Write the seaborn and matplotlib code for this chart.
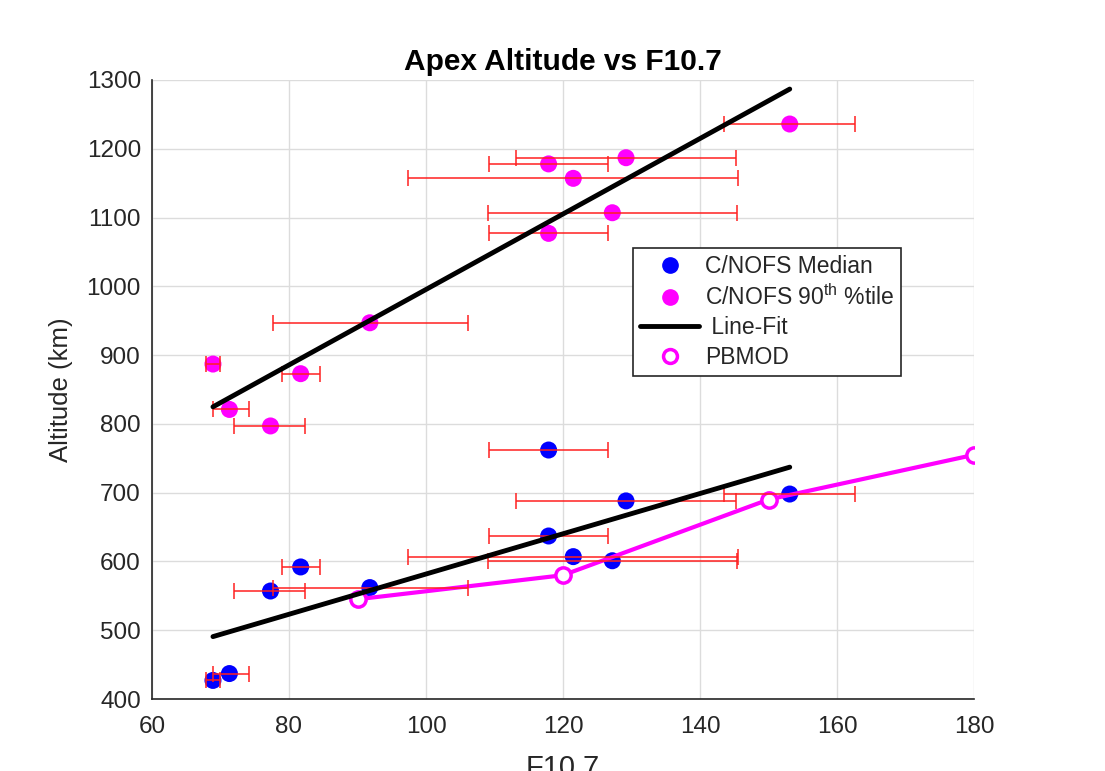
import matplotlib
matplotlib.use('Agg')
import matplotlib.pyplot as plt
from matplotlib.lines import Line2D
import numpy as np
import pandas as pd
import seaborn as sns

# F10.7 bin centres and the spread of each bin
f107 = [68.9, 71.3, 77.3, 81.7, 91.8, 117.9, 117.9, 121.5, 127.2, 129.2, 153.1]
f107_lo = [67.9, 68.9, 72.0, 79.0, 77.7, 109.2, 109.2, 97.4, 109.1, 113.2, 143.5]
f107_hi = [69.9, 74.1, 82.4, 84.5, 106.1, 126.5, 126.5, 145.5, 145.4, 145.2, 162.7]

# apex altitudes (km)
alt_median = [427, 437, 557, 592, 562, 762, 637, 607, 601, 688, 698]
alt_90th = [887, 821, 797, 873, 947, 1178, 1077, 1157, 1107, 1187, 1236]

# PBMOD model
pb_f107 = [90, 120, 150, 180]
pb_alt = [545, 580, 690, 755]

sns.set_style('white')
plt.rcParams['font.family'] = ['Liberation Sans', 'DejaVu Sans']
plt.rcParams['mathtext.fontset'] = 'custom'
plt.rcParams['mathtext.rm'] = 'Liberation Sans'

df = pd.DataFrame({'f107': f107 + f107,
                   'alt': alt_median + alt_90th,
                   'kind': ['median'] * len(f107) + ['90th'] * len(f107)})
df_pb = pd.DataFrame({'f107': pb_f107, 'alt': pb_alt})

x = np.array(f107)
xerr = [x - np.array(f107_lo), np.array(f107_hi) - x]

# line fits
xfit = np.array([x.min(), x.max()])
fit_med = np.polyval(np.polyfit(x, alt_median, 1), xfit)
fit_90 = np.polyval(np.polyfit(x, alt_90th, 1), xfit)
df_fit = pd.DataFrame({'f107': list(xfit) + list(xfit),
                       'alt': list(fit_med) + list(fit_90),
                       'grp': ['m', 'm', 'p', 'p']})

fig = plt.figure(figsize=(11.05, 7.71), dpi=100)
ax = fig.add_axes([152 / 1105, 1 - 699 / 771, (974 - 152) / 1105, (699 - 80) / 771])

sns.scatterplot(data=df, x='f107', y='alt', hue='kind',
                palette={'median': '#0000ff', '90th': '#ff00ff'},
                s=150, edgecolor='none', legend=False, ax=ax, zorder=3)
sns.lineplot(data=df_pb, x='f107', y='alt', color='#ff00ff', lw=3,
             marker='o', markersize=11, markerfacecolor='white',
             markeredgecolor='#ff00ff', markeredgewidth=2.5, ax=ax, zorder=4)
ax.errorbar(f107, alt_median, xerr=xerr, fmt='none', ecolor='#ff2020',
            elinewidth=1.1, capsize=6, capthick=1.1, zorder=5)
ax.errorbar(f107, alt_90th, xerr=xerr, fmt='none', ecolor='#ff2020',
            elinewidth=1.1, capsize=6, capthick=1.1, zorder=5)
sns.lineplot(data=df_fit, x='f107', y='alt', units='grp', estimator=None,
             color='black', lw=3.5, ax=ax, zorder=6)

ax.set_xlim(60, 180)
ax.set_ylim(400, 1300)
ax.set_xticks(np.arange(60, 181, 20))
ax.set_yticks(np.arange(400, 1301, 100))
ax.grid(True, color='#dcdcdc', lw=1)
ax.set_axisbelow(True)
for s in ['top', 'right']:
    ax.spines[s].set_visible(False)
for s in ['left', 'bottom']:
    ax.spines[s].set_color('#262626')
    ax.spines[s].set_linewidth(1.2)
ax.tick_params(direction='in', length=6, width=1.2, color='#262626',
               labelsize=17.5, labelcolor='#262626')
ax.tick_params(axis='x', pad=12)
ax.tick_params(axis='y', pad=8)

ax.set_title('Apex Altitude vs F10.7', fontsize=21.5, fontweight='bold',
             color='black', pad=7)
ax.set_xlabel('F10.7', fontsize=21, color='#262626', labelpad=12)
ax.set_ylabel('Altitude (km)', fontsize=18.5, color='#262626', labelpad=10)

handles = [
    Line2D([], [], ls='none', marker='o', color='#0000ff', markersize=11),
    Line2D([], [], ls='none', marker='o', color='#ff00ff', markersize=11),
    Line2D([], [], color='black', lw=3.5),
    Line2D([], [], ls='none', marker='o', color='#ff00ff', markerfacecolor='white',
           markersize=10, markeredgewidth=2.5),
]
labels = ['C/NOFS Median', 'C/NOFS 90$^{\\rm th}$ %tile', ' Line-Fit', 'PBMOD']
leg = ax.legend(handles, labels, loc='upper left',
                bbox_to_anchor=(633 / 1105, 1 - 248 / 771),
                bbox_transform=fig.transFigure, fontsize=16.5,
                frameon=True, fancybox=False, framealpha=1,
                edgecolor='#262626', handlelength=2.6, labelspacing=0.28,
                borderpad=0.3, handletextpad=0.25, borderaxespad=0)
leg.get_frame().set_linewidth(1.2)

fig.savefig('out.png', dpi=100)
